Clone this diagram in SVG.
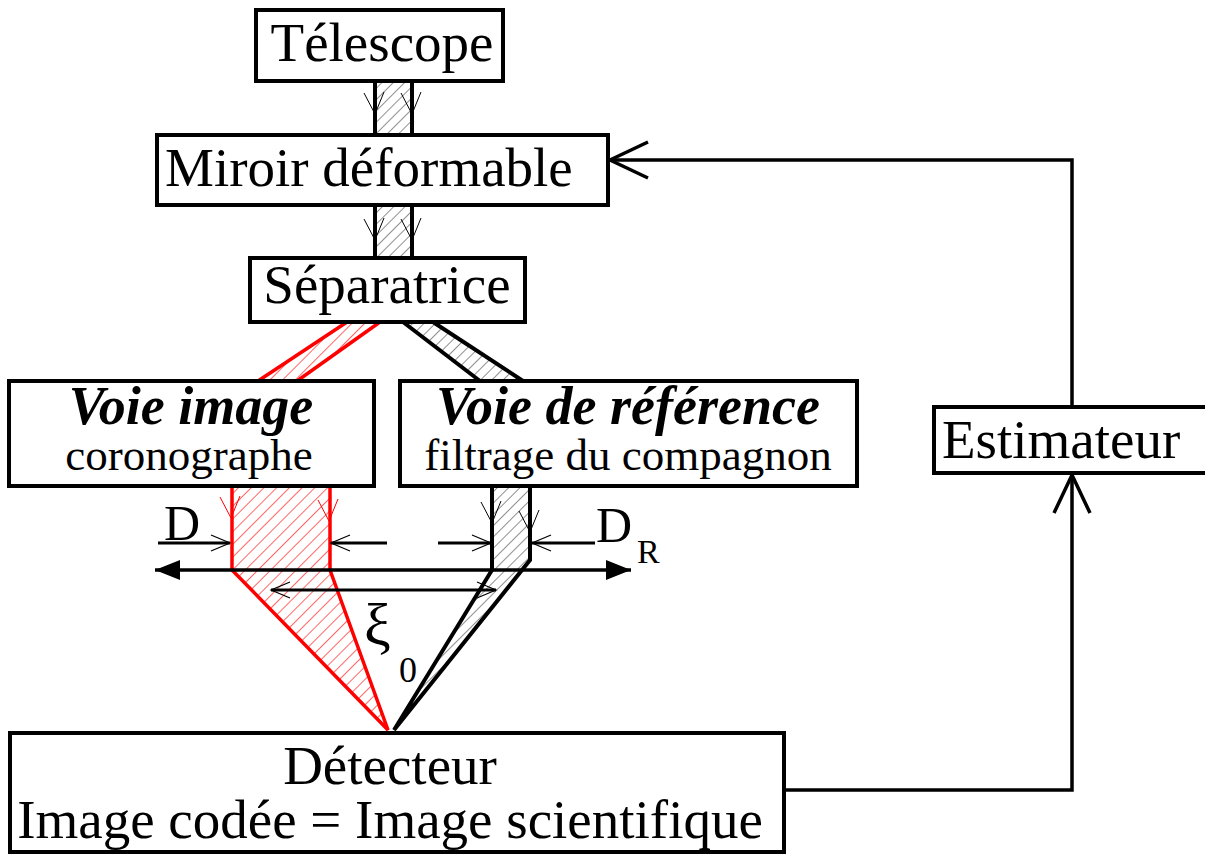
<svg xmlns="http://www.w3.org/2000/svg" width="1205" height="857" viewBox="0 0 1205 857">
<style>
.box{fill:#fff;stroke:#000;stroke-width:4}
.t{font-family:"Liberation Serif","Times New Roman",serif;font-size:55px;fill:#000}
.ts{font-family:"Liberation Serif","Times New Roman",serif;font-size:45px;fill:#000}
.tb{font-family:"Liberation Serif","Times New Roman",serif;font-size:54px;font-weight:bold;font-style:italic;fill:#000}
.edge{fill:none;stroke:#000;stroke-width:4}
.redge{fill:none;stroke:#f00;stroke-width:3.5}
.va{fill:none;stroke:#000;stroke-width:1}
.var{fill:none;stroke:#f00;stroke-width:1}
.conn{fill:none;stroke:#000;stroke-width:3.5}
.dim{fill:none;stroke:#000;stroke-width:3}
</style>
<defs>
<pattern id="hg" patternUnits="userSpaceOnUse" width="8" height="8" patternTransform="rotate(45)"><line x1="0" y1="0" x2="0" y2="8" stroke="#444" stroke-width="1.2"/></pattern>
<pattern id="hr" patternUnits="userSpaceOnUse" width="9" height="9" patternTransform="rotate(45)"><line x1="0" y1="0" x2="0" y2="9" stroke="#f00" stroke-width="1.2"/></pattern>
<marker id="open" markerUnits="userSpaceOnUse" viewBox="-42 -22 46 44" refX="0" refY="0" markerWidth="46" markerHeight="44" orient="auto"><path d="M-38,-18 L0,0 L-38,18" fill="none" stroke="#000" stroke-width="3.5"/></marker>
<marker id="fill" markerUnits="userSpaceOnUse" viewBox="-26 -11 28 22" refX="0" refY="0" markerWidth="28" markerHeight="22" orient="auto-start-reverse"><path d="M-25,-10 L0,0 L-25,10 Z" fill="#000"/></marker>
<marker id="thin" markerUnits="userSpaceOnUse" viewBox="-22 -10 24 20" refX="0" refY="0" markerWidth="24" markerHeight="20" orient="auto-start-reverse"><path d="M-19,-8 L0,0 L-19,8" fill="none" stroke="#000" stroke-width="1.2"/></marker>
<path id="vd" d="M-11,-21 L0,0 L9,-22"/>
</defs>

<g id="beams">
  <rect x="375" y="80" width="37" height="55" fill="url(#hg)"/>
  <line class="edge" x1="375" y1="80" x2="375" y2="135"/>
  <line class="edge" x1="412" y1="80" x2="412" y2="135"/>
  <use href="#vd" class="va" x="375" y="114"/>
  <use href="#vd" class="va" x="412" y="114"/>

  <rect x="375" y="205" width="37" height="53" fill="url(#hg)"/>
  <line class="edge" x1="375" y1="205" x2="375" y2="258"/>
  <line class="edge" x1="412" y1="205" x2="412" y2="258"/>
  <use href="#vd" class="va" x="375" y="240"/>
  <use href="#vd" class="va" x="412" y="240"/>

  <polygon points="347,322 380,322 297,381 258,381" fill="url(#hr)"/>
  <line class="redge" x1="347" y1="322" x2="258" y2="381"/>
  <line class="redge" x1="380" y1="322" x2="297" y2="381"/>

  <polygon points="403,322 433,322 523,381 480,381" fill="url(#hg)"/>
  <line class="edge" x1="403" y1="322" x2="480" y2="381"/>
  <line class="edge" x1="433" y1="322" x2="523" y2="381"/>

  <polygon points="232,486 330,486 330,570 388,730 232,570" fill="url(#hr)"/>
  <polyline class="redge" points="232,486 232,570 388,730 330,570 330,486"/>
  <use href="#vd" class="var" x="231" y="518"/>
  <use href="#vd" class="var" x="329" y="521"/>

  <polygon points="492,486 530,486 530,560 395,730 492,570" fill="url(#hg)"/>
  <polyline class="edge" points="492,486 492,570 394,730 530,560 530,486"/>
  <use href="#vd" class="va" x="492" y="523"/>
  <use href="#vd" class="va" x="530" y="532"/>
</g>

<g id="telescope">
  <rect class="box" x="256" y="10" width="247" height="71"/>
  <text class="t" x="382" y="61" text-anchor="middle">Télescope</text>
</g>
<g id="miroir">
  <rect class="box" x="157" y="135" width="451" height="70"/>
  <text class="t" x="165" y="186">Miroir déformable</text>
</g>
<g id="separatrice">
  <rect class="box" x="250" y="258" width="275" height="64"/>
  <text class="t" x="387" y="303" text-anchor="middle">Séparatrice</text>
</g>
<g id="voie-image">
  <rect class="box" x="9" y="381" width="365" height="105"/>
  <text class="tb" x="191" y="424" text-anchor="middle">Voie image</text>
  <text class="ts" x="189" y="470" text-anchor="middle">coronographe</text>
</g>
<g id="voie-reference">
  <rect class="box" x="400" y="381" width="457" height="105"/>
  <text class="tb" x="628" y="424" text-anchor="middle">Voie de référence</text>
  <text class="ts" x="628" y="470" text-anchor="middle">filtrage du compagnon</text>
</g>
<g id="estimateur">
  <rect class="box" x="934" y="407" width="290" height="66"/>
  <text class="t" x="942" y="458">Estimateur</text>
</g>
<g id="detecteur">
  <rect class="box" x="10" y="733" width="774" height="119"/>
  <text class="t" x="390" y="784" text-anchor="middle">Détecteur</text>
  <text class="t" x="390" y="838" text-anchor="middle">Image codée = Image scientifique</text>
</g>

<g id="connectors">
  <polyline class="conn" points="784,790 1072,790 1072,475" marker-end="url(#open)"/>
  <polyline class="conn" points="1072,407 1072,160 610,160" marker-end="url(#open)"/>
</g>

<g id="annotations">
  <line class="conn" x1="155" y1="570" x2="631" y2="570" marker-start="url(#fill)" marker-end="url(#fill)"/>
  <line class="dim" x1="158" y1="543" x2="230" y2="543" marker-end="url(#thin)"/>
  <line class="dim" x1="387" y1="543" x2="331" y2="543" marker-end="url(#thin)"/>
  <line class="dim" x1="438" y1="543" x2="491" y2="543" marker-end="url(#thin)"/>
  <line class="dim" x1="595" y1="543" x2="532" y2="543" marker-end="url(#thin)"/>
  <line class="dim" x1="271" y1="590" x2="496" y2="590" marker-start="url(#thin)" marker-end="url(#thin)"/>
  <text class="t" x="164" y="540" style="font-size:50px">D</text>
  <text class="t" x="596" y="542" style="font-size:50px">D</text>
  <text class="t" x="637" y="563" style="font-size:34px">R</text>
  <text class="t" x="364" y="645" style="font-size:60px">ξ</text>
  <text class="t" x="399" y="682" style="font-size:36px">0</text>
</g>
</svg>
